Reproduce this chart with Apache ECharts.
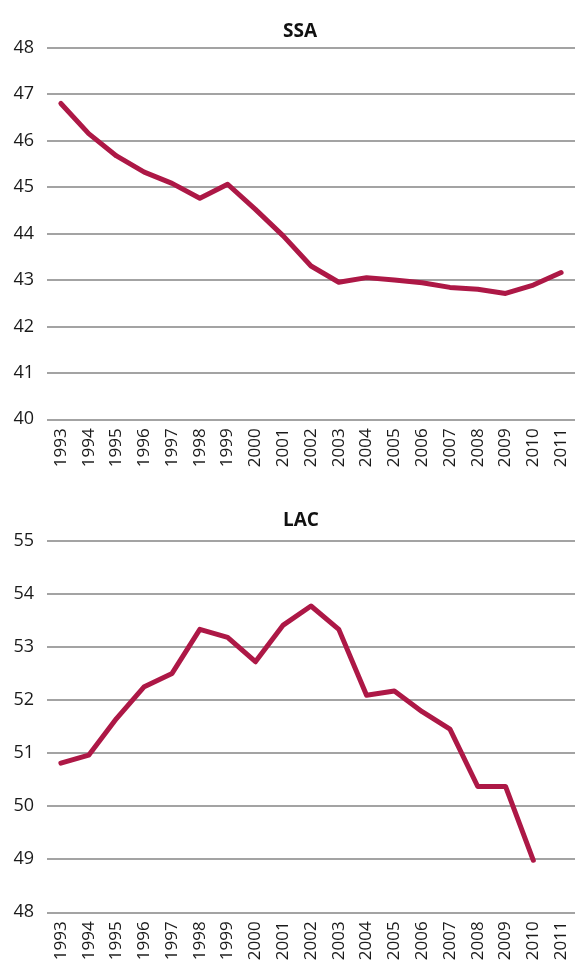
<!DOCTYPE html>
<html><head><meta charset="utf-8">
<script src="https://cdn.jsdelivr.net/npm/echarts@6/dist/echarts.min.js"></script>
<style>html,body{margin:0;padding:0;background:#fff}#c{width:575px;height:971px}</style>
</head><body><div id="c"></div>
<script>
const years = ['1993','1994','1995','1996','1997','1998','1999','2000','2001','2002','2003','2004','2005','2006','2007','2008','2009','2010','2011'];
const ssaValues = [46.8,46.15,45.67,45.32,45.08,44.76,45.06,44.52,43.95,43.3,42.95,43.05,43.0,42.94,42.84,42.8,42.71,42.89,43.16];
const lacValues = [50.81,50.96,51.65,52.25,52.5,53.33,53.18,52.72,53.41,53.77,53.33,52.09,52.17,51.78,51.45,50.37,50.37,48.98,null];
const ssaTicks = {min:40,max:48,interval:1};
const lacTicks = {min:48,max:55,interval:1};
const titles = ['SSA','LAC'];

const FONT = '"Open Sans", "Noto Sans", sans-serif';
const lineColor = '#AD1846';
const gridColor = '#a3a3a3';

function xAxis(i){
  return {type:'category',gridIndex:i,data:years,boundaryGap:true,
    axisLine:{show:false},axisTick:{show:false},
    axisLabel:{rotate:90,margin:9,color:'#1a1a1a',fontSize:17,fontFamily:FONT,interval:0}};
}
function yAxis(i,t){
  return {type:'value',gridIndex:i,min:t.min,max:t.max,interval:t.interval,
    axisLine:{show:false},axisTick:{show:false},
    splitLine:{lineStyle:{color:gridColor,width:2}},
    axisLabel:{margin:13,color:'#1a1a1a',fontSize:18,fontFamily:FONT}};
}
const chart = echarts.init(document.getElementById('c'),null,{renderer:'canvas'});
chart.setOption({
  animation:false,
  title:[
    {text:titles[0],left:295,top:17,textAlign:'center',textStyle:{fontSize:19,fontWeight:'bold',color:'#111',fontFamily:FONT}},
    {text:titles[1],left:296,top:506,textAlign:'center',textStyle:{fontSize:19,fontWeight:'bold',color:'#111',fontFamily:FONT}}
  ],
  grid:[
    {left:47,right:0,top:47.7,height:371.6},
    {left:47,right:0,top:540.7,height:371.6}
  ],
  xAxis:[xAxis(0),xAxis(1)],
  yAxis:[yAxis(0,ssaTicks),yAxis(1,lacTicks)],
  series:[
    {type:'line',xAxisIndex:0,yAxisIndex:0,data:ssaValues,symbol:'none',lineStyle:{color:lineColor,width:5,cap:'round',join:'round'}},
    {type:'line',xAxisIndex:1,yAxisIndex:1,data:lacValues,symbol:'none',lineStyle:{color:lineColor,width:5,cap:'round',join:'round'}}
  ]
});
</script></body></html>
